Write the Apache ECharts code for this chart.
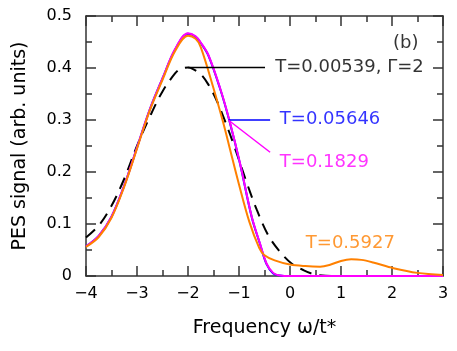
<!DOCTYPE html>
<html>
<head>
<meta charset="utf-8">
<script src="https://cdn.jsdelivr.net/npm/echarts@6/dist/echarts.min.js"></script>
<style>
  html, body { margin: 0; padding: 0; background: #fff; }
  #chart { width: 457px; height: 351px; }
</style>
</head>
<body>
<div id="chart"></div>
<script>
// values
var dashX = [-4, -3.75, -3.5, -3.25, -3.0, -2.75, -2.5, -2.25, -2.15, -2.0, -1.9, -1.75, -1.6, -1.44, -1.27, -1.08, -0.85, -0.65, -0.43, -0.2, 0.03, 0.26, 0.45, 0.7, 1.0, 2.0, 3.0];
var dashY = [0.074, 0.097, 0.135, 0.187, 0.25, 0.306, 0.355, 0.39, 0.398, 0.401, 0.398, 0.388, 0.368, 0.338, 0.297, 0.246, 0.18, 0.127, 0.079, 0.047, 0.024, 0.0115, 0.004, 0.0005, 0, 0, 0];

var magX = [-4, -3.75, -3.5, -3.25, -3.0, -2.75, -2.5, -2.25, -2.0, -1.85, -1.75, -1.6, -1.37, -1.19, -0.98, -0.75, -0.59, -0.46, -0.33, -0.2, 0, 1, 2, 3];
var magY = [0.057, 0.077, 0.114, 0.174, 0.247, 0.32, 0.38, 0.437, 0.467, 0.461, 0.449, 0.425, 0.361, 0.300, 0.217, 0.114, 0.063, 0.024, 0.006, 0.001, 0, 0, 0, 0];

var blueX = [-4, -3.75, -3.5, -3.25, -3.0, -2.75, -2.5, -2.25, -2.0, -1.85, -1.75, -1.6, -1.37, -1.19, -0.98, -0.75, -0.59, -0.46, -0.33, -0.2, 0, 1, 2, 3];
var blueY = [0.057, 0.077, 0.114, 0.174, 0.247, 0.32, 0.38, 0.436, 0.466, 0.460, 0.448, 0.424, 0.360, 0.299, 0.216, 0.113, 0.062, 0.023, 0.005, 0.001, 0, 0, 0, 0];

var orX = [-4, -3.75, -3.5, -3.25, -3.0, -2.75, -2.5, -2.25, -2.0, -1.85, -1.75, -1.5, -1.31, -1.2, -1.0, -0.8, -0.6, -0.5, -0.3, 0, 0.3, 0.59, 0.8, 1.0, 1.2, 1.4, 1.63, 2.03, 2.5, 3.0];
var orY = [0.056, 0.075, 0.112, 0.172, 0.245, 0.318, 0.377, 0.433, 0.462, 0.456, 0.44, 0.361, 0.295, 0.253, 0.176, 0.105, 0.053, 0.04, 0.03, 0.022, 0.019, 0.018, 0.022, 0.029, 0.032, 0.031, 0.026, 0.015, 0.006, 0.002];

// annotation texts and anchors (data coords)
var notes = [
  { text: 'T=0.00539, \u0393=2', x: -0.29, y: 0.401, color: '#000000' },
  { text: 'T=0.05646', x: -0.2, y: 0.302, color: '#0000ff' },
  { text: 'T=0.1829', x: -0.2, y: 0.219, color: '#ff00ff' },
  { text: 'T=0.5927', x: 0.31, y: 0.063, color: '#ff8000' },
  { text: '(b)', x: 2.02, y: 0.448, color: '#000000' }
];
var blackLeader = [[-2.0, 0.401], [-0.49, 0.401]];
var blueLeader = [[-1.21, 0.300], [-0.39, 0.300]];
var magLeader = [[-1.21, 0.300], [-0.39, 0.238]];

function pairs(xs, ys) {
  return xs.map(function (x, i) { return [x, ys[i]]; });
}

var font = 'DejaVu Sans';
var axisColor = '#333333';

function xAx(pos, showLabel) {
  return {
    type: 'value', position: pos, min: -4, max: 3, interval: 1,
    axisLine: { onZero: false, lineStyle: { color: axisColor, width: 1.5 } },
    axisTick: { inside: true, length: 10, lineStyle: { color: axisColor, width: 1.5 } },
    minorTick: { show: true, splitNumber: 2, length: 6, lineStyle: { color: axisColor, width: 1.5 } },
    splitLine: { show: false },
    axisLabel: {
      show: showLabel, margin: 10, fontFamily: font, fontSize: 16, color: '#000',
      formatter: function (v) { return v < 0 ? '\u2212' + Math.abs(v) : String(v); }
    },
    name: showLabel ? 'Frequency \u03c9/t*' : '',
    nameLocation: 'middle', nameGap: 43,
    nameTextStyle: { fontFamily: font, fontSize: 19, color: '#000' }
  };
}

function yAx(pos, showLabel) {
  return {
    type: 'value', position: pos, min: 0, max: 0.5, interval: 0.1,
    axisLine: { onZero: false, lineStyle: { color: axisColor, width: 1.5 } },
    axisTick: { inside: true, length: 10, lineStyle: { color: axisColor, width: 1.5 } },
    minorTick: { show: true, splitNumber: 2, length: 6, lineStyle: { color: axisColor, width: 1.5 } },
    splitLine: { show: false },
    axisLabel: {
      show: showLabel, margin: 14, fontFamily: font, fontSize: 16, color: '#000',
      formatter: function (v) { return v === 0 ? '0' : v.toFixed(1); }
    },
    name: showLabel ? 'PES signal (arb. units)' : '',
    nameLocation: 'middle', nameGap: 56, nameRotate: 90,
    nameTextStyle: { fontFamily: font, fontSize: 19, color: '#000' }
  };
}

function curve(name, xs, ys, color, type) {
  return {
    name: name, type: 'line', data: pairs(xs, ys), smooth: 0.35,
    showSymbol: false, symbol: 'none', silent: true,
    lineStyle: { color: color, width: 2, type: type || 'solid' }
  };
}

function leader(pts, color) {
  return {
    type: 'line', data: pts, showSymbol: false, symbol: 'none', silent: true,
    lineStyle: { color: color, width: 1.5 }
  };
}

var option = {
  animation: false,
  grid: { left: 86, top: 16, right: 14, bottom: 75 },
  xAxis: [xAx('bottom', true), xAx('top', false)],
  yAxis: [yAx('left', true), yAx('right', false)],
  series: [
    curve('T=0.00539', dashX, dashY, '#000000', [12, 8]),
    curve('T=0.05646', blueX, blueY, '#0000ff'),
    curve('T=0.1829', magX, magY, '#ff00ff'),
    curve('T=0.5927', orX, orY, '#ff8000'),
    leader(blackLeader, '#000000'),
    leader(blueLeader, '#0000ff'),
    leader(magLeader, '#ff00ff'),
    {
      type: 'scatter', symbolSize: 0, silent: true,
      data: notes.map(function (n) {
        return {
          value: [n.x, n.y],
          label: { show: true, position: 'right', distance: 0, formatter: n.text,
                   color: n.color, fontFamily: font, fontSize: 18 }
        };
      })
    }
  ]
};

var chart = echarts.init(document.getElementById('chart'));
chart.setOption(option);
</script>
</body>
</html>
